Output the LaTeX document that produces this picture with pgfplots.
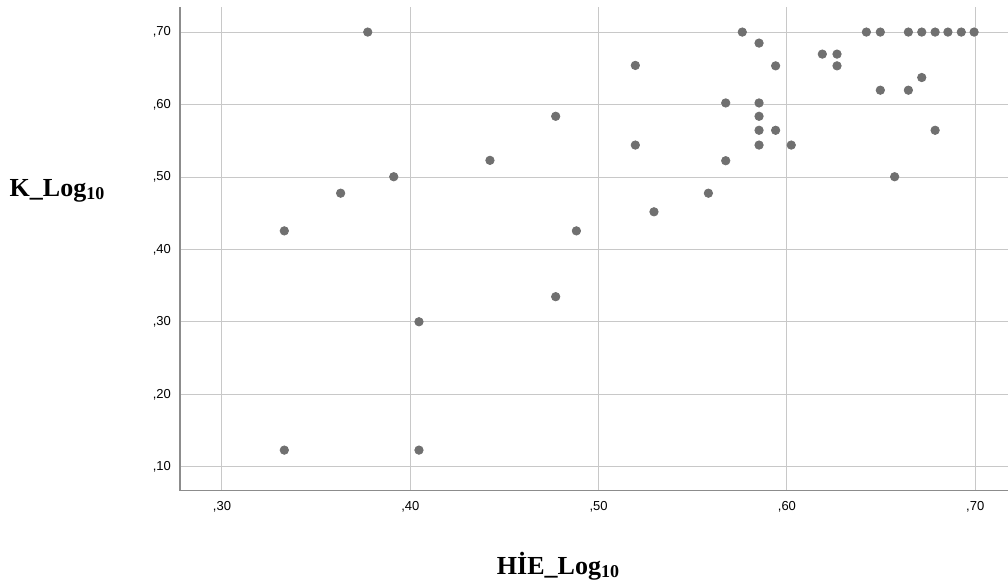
\documentclass[border=0pt]{standalone}
\usepackage{fontspec}
\setmainfont{Liberation Serif}
\newfontfamily\arialf{Liberation Sans}
\usepackage{pgfplots}
\pgfplotsset{compat=1.18}
\definecolor{dotgray}{RGB}{112,112,112}
\definecolor{gridgray}{RGB}{200,200,200}
\definecolor{axgray}{RGB}{140,140,140}
\begin{document}
\begin{tikzpicture}
\path[use as bounding box] (0,0) rectangle (504pt,293pt);
\begin{axis}[
  at={(90pt,47.65pt)}, anchor=south west,
  scale only axis, width=414pt, height=241.85pt,
  xmin=0.2777, xmax=0.7174, ymin=0.0672, ymax=0.7346,
  axis x line*=bottom, axis y line*=left,
  axis line style={draw=axgray, line width=0.6pt, -},
  xtick={0.3,0.4,0.5,0.6,0.7},
  xticklabels={{,30},{,40},{,50},{,60},{,70}},
  ytick={0.1,0.2,0.3,0.4,0.5,0.6,0.7},
  yticklabels={{,10},{,20},{,30},{,40},{,50},{,60},{,70}},
  major tick length=0pt,
  tick style={draw=none},
  ticklabel style={font=\arialf\fontsize{6.5}{7.8}\selectfont, text=black},
  xticklabel style={yshift=-2pt},
  yticklabel style={xshift=-1pt},
  grid=major,
  major grid style={draw=gridgray, line width=0.5pt},
  clip=false,
]
\addplot[only marks, mark=*, mark size=2.1pt, mark options={fill=dotgray, draw=dotgray}] table {
x y
0.3331 0.1232
0.4046 0.1232
0.3331 0.4257
0.3630 0.4777
0.3912 0.5004
0.3774 0.7000
0.4046 0.3003
0.4423 0.5230
0.4772 0.5838
0.4772 0.3349
0.4882 0.4257
0.5195 0.6540
0.5195 0.5441
0.5294 0.4520
0.5583 0.4777
0.5675 0.6022
0.5675 0.5225
0.5763 0.7000
0.5852 0.6848
0.5852 0.6022
0.5852 0.5838
0.5852 0.5645
0.5852 0.5441
0.5940 0.6534
0.5940 0.5645
0.6023 0.5441
0.6188 0.6696
0.6266 0.6696
0.6266 0.6534
0.6422 0.7000
0.6496 0.7000
0.6496 0.6198
0.6572 0.5004
0.6645 0.7000
0.6645 0.6198
0.6716 0.7000
0.6716 0.6373
0.6787 0.7000
0.6787 0.5645
0.6855 0.7000
0.6926 0.7000
0.6994 0.7000
};
\end{axis}
\node[font=\bfseries\fontsize{13}{15}\selectfont, anchor=center] at (28.5pt,197.5pt) {K\_Log\raisebox{-0.25ex}{\fontsize{9}{9}\selectfont 10}};
\node[font=\bfseries\fontsize{13}{15}\selectfont, anchor=center] at (279pt,10pt) {HİE\_Log\raisebox{-0.25ex}{\fontsize{9}{9}\selectfont 10}};
\end{tikzpicture}
\end{document}
